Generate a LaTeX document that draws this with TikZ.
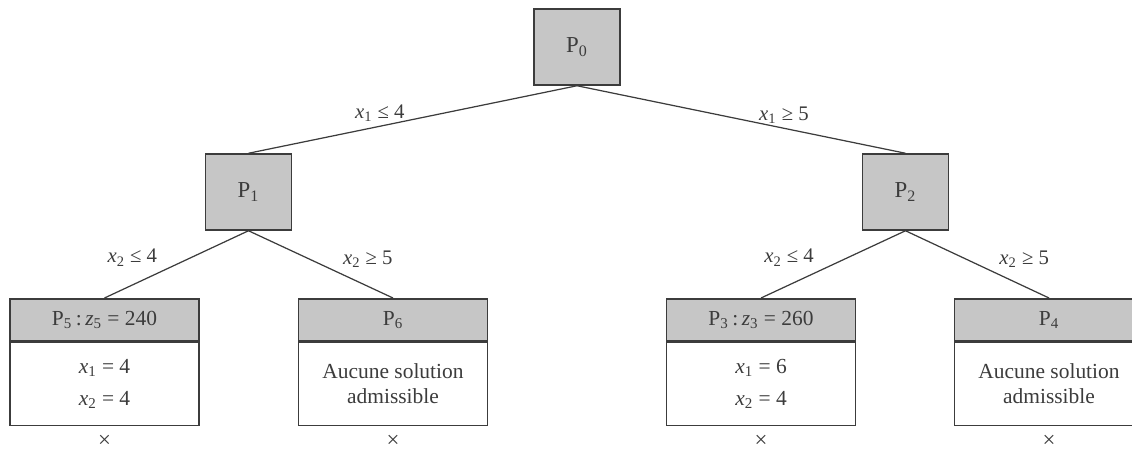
\documentclass[tikz,border=0pt]{standalone}
\usepackage{fontspec}
\setmainfont{Liberation Serif}
\usetikzlibrary{positioning}
\definecolor{BBInk}{HTML}{3C3C3C}
\definecolor{BBShade}{HTML}{C6C6C6}
\newcommand{\xv}[1]{\textit{x}\textsubscript{#1}}
\newcommand{\zv}[1]{\textit{z}\textsubscript{#1}}

\begin{document}
\begin{tikzpicture}[
  font=\fontsize{12.2}{14}\selectfont,text=BBInk,
  prob/.style={draw=BBInk,fill=BBShade,line width=0.85pt,minimum width=1.72cm,minimum height=1.52cm,font=\fontsize{13}{15}\selectfont},
  head/.style={draw=BBInk,fill=BBShade,line width=0.85pt,minimum width=3.78cm,minimum height=0.84cm,anchor=north},
  body/.style={draw=BBInk,fill=white,line width=0.85pt,minimum width=3.78cm,minimum height=1.66cm,align=center},
  branch/.style={draw=BBInk,line width=0.7pt},
  lbl/.style={inner sep=2.5pt,font=\fontsize{11.8}{14}\selectfont},
  cut/.style={inner sep=0pt,font=\fontsize{13}{13}\selectfont},
]
\useasboundingbox (0,0) rectangle (22.64,-9.06);
% sous-problemes
\node[prob] (p0) at (11.54,-0.94) {P\textsubscript{0}};
\node[prob] (p1) at (4.97,-3.84) {P\textsubscript{1}};
\node[prob] (p2) at (18.11,-3.84) {P\textsubscript{2}};
% feuilles
\node[head] (p5) at (2.09,-5.96) {P\textsubscript{5}\,:\,\zv{5} = 240};
\node[body,below=0pt of p5] (s5) {\xv{1} = 4\\[4pt]\xv{2} = 4};
\node[head] (p6) at (7.86,-5.96) {P\textsubscript{6}};
\node[body,below=0pt of p6] (s6) {Aucune solution\\admissible};
\node[head] (p3) at (15.22,-5.96) {P\textsubscript{3}\,:\,\zv{3} = 260};
\node[body,below=0pt of p3] (s3) {\xv{1} = 6\\[4pt]\xv{2} = 4};
\node[head] (p4) at (20.98,-5.96) {P\textsubscript{4}};
\node[body,below=0pt of p4] (s4) {Aucune solution\\admissible};
% elagage
\node[cut,below=0.17cm of s5] (c5) {×};
\node[cut,below=0.17cm of s6] (c6) {×};
\node[cut,below=0.17cm of s3] (c3) {×};
\node[cut,below=0.17cm of s4] (c4) {×};
% branchements
\draw[branch] (p0.south) -- node[lbl,pos=0.6,above] {\xv{1} ≤ 4} (p1.north);
\draw[branch] (p0.south) -- node[lbl,pos=0.63,above] {\xv{1} ≥ 5} (p2.north);
\draw[branch] (p1.south) -- node[lbl,pos=0.6,above left] {\xv{2} ≤ 4} (p5.north);
\draw[branch] (p1.south) -- node[lbl,pos=0.62,above right] {\xv{2} ≥ 5} (p6.north);
\draw[branch] (p2.south) -- node[lbl,pos=0.6,above left] {\xv{2} ≤ 4} (p3.north);
\draw[branch] (p2.south) -- node[lbl,pos=0.62,above right] {\xv{2} ≥ 5} (p4.north);
\end{tikzpicture}
\end{document}
